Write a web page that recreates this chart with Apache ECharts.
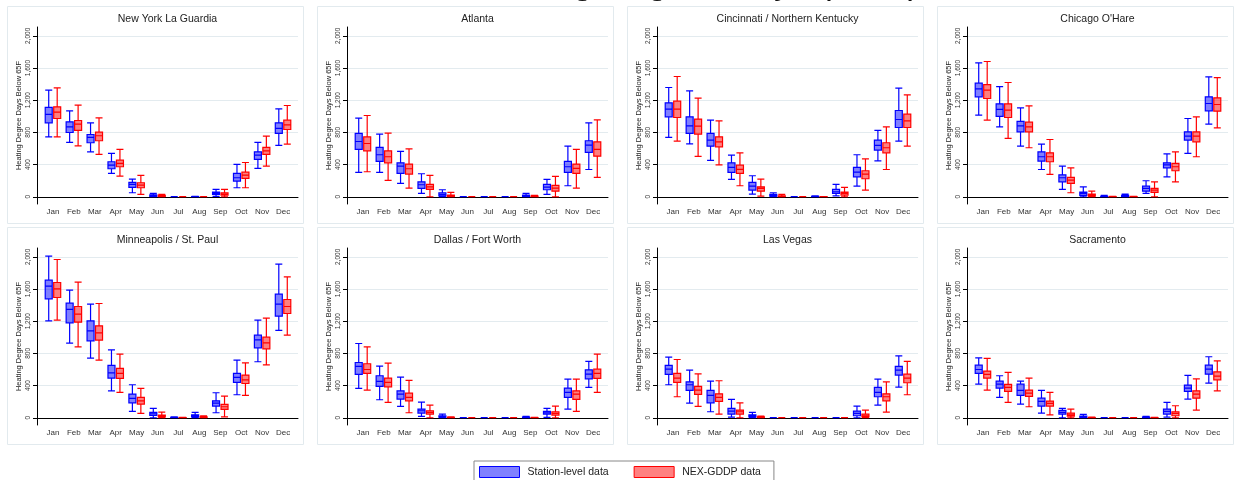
<!DOCTYPE html>
<html><head><meta charset="utf-8">
<script src="https://cdn.jsdelivr.net/npm/echarts@6/dist/echarts.min.js"></script>
<style>html,body{margin:0;padding:0;background:#fff}#c{width:1235px;height:480px}</style>
</head><body><div id="c"></div>
<script>
// ---------- data: [min, Q1, median, Q3, max] per month ----------
const months = ['Jan','Feb','Mar','Apr','May','Jun','Jul','Aug','Sep','Oct','Nov','Dec'];
const yTicks = [0, 400, 800, 1200, 1600, 2000];
const seriesNames = ['Station-level data', 'NEX-GDDP data'];
const yAxisName = 'Heating Degree Days Below 65F';
const figureTitle = 'Historical Heating Degree Days (HDD)';

const nyStation = [[745,919,1023,1110,1325],[675,799,869,932,1068],[559,671,737,774,919],[290,348,393,435,538],[50,116,153,178,219],[0,4,12,25,41],[0,0,0,0,2],[0,0,0,1,5],[4,29,46,58,91],[112,195,236,290,402],[352,464,518,559,675],[638,787,849,919,1093]];
const nyNex = [[745,973,1052,1118,1354],[633,824,903,948,1139],[526,696,758,803,981],[257,373,414,455,588],[29,112,145,174,265],[0,4,8,17,29],[0,0,0,0,2],[0,0,0,0,3],[0,21,33,50,91],[112,228,269,306,426],[381,526,571,613,753],[654,836,894,952,1134]];

const atlStation = [[302,588,687,787,977],[302,439,522,613,778],[166,290,381,422,563],[41,104,149,186,286],[0,12,29,50,87],[0,0,0,0,2],[0,0,0,0,1],[0,0,0,0,1],[0,4,8,21,41],[29,87,120,153,215],[137,302,373,439,629],[339,551,642,696,919]];
const atlNex = [[311,571,662,745,1010],[203,422,497,571,791],[108,282,348,406,596],[0,91,124,153,265],[0,4,12,21,54],[0,0,0,0,1],[0,0,0,0,1],[0,0,0,0,1],[0,0,4,8,17],[0,70,108,141,253],[108,290,352,406,588],[240,505,588,683,956]];

const cinStation = [[737,994,1089,1167,1358],[658,787,882,994,1317],[451,629,704,787,952],[215,302,364,422,518],[33,83,132,178,261],[0,8,17,29,50],[0,0,0,0,3],[0,1,2,4,12],[12,41,62,91,153],[132,248,306,364,522],[447,580,638,704,824],[691,861,960,1072,1350]];
const cinNex = [[691,985,1089,1188,1495],[501,778,878,965,1225],[397,621,683,745,944],[137,290,340,393,546],[8,70,104,124,219],[0,4,8,12,29],[0,0,0,0,1],[0,0,0,1,3],[0,21,41,58,116],[83,224,282,323,472],[339,546,609,671,869],[629,861,944,1027,1267]];

const chiStation = [[1014,1242,1341,1412,1664],[869,998,1085,1155,1370],[629,807,882,936,1105],[339,443,497,559,654],[91,186,236,273,381],[0,17,41,58,124],[0,0,2,4,17],[0,4,8,16,33],[41,70,104,132,199],[248,360,397,422,534],[538,704,753,807,973],[903,1068,1159,1242,1490]];
const chiNex = [[952,1221,1325,1395,1681],[725,985,1076,1155,1420],[609,807,869,927,1130],[277,435,497,546,712],[50,166,207,240,360],[0,8,21,33,70],[0,0,0,1,4],[0,0,1,2,6],[0,54,83,104,186],[186,323,373,414,559],[497,683,753,807,994],[857,1064,1147,1230,1482]];

const minStation = [[1205,1478,1635,1710,2008],[927,1180,1346,1424,1586],[741,956,1081,1205,1412],[335,493,559,650,845],[79,186,240,294,410],[0,29,50,66,116],[0,0,2,4,12],[0,12,21,37,66],[62,145,182,211,311],[286,439,501,551,716],[696,869,969,1027,1213],[1085,1263,1412,1536,1909]];
const minNex = [[1213,1495,1602,1681,1967],[882,1188,1288,1383,1685],[716,965,1056,1143,1420],[315,489,551,613,791],[54,170,211,253,364],[0,12,25,33,70],[0,0,0,1,4],[0,4,8,12,25],[12,104,137,166,269],[277,426,472,530,683],[658,857,931,1002,1238],[1027,1296,1383,1470,1751]];

const dalStation = [[364,538,638,687,923],[224,389,451,522,642],[141,232,294,335,505],[17,58,87,108,195],[0,8,12,25,46],[0,0,0,0,1],[0,0,0,0,1],[0,0,0,0,1],[0,2,4,8,17],[4,46,62,79,116],[108,253,315,369,480],[377,484,542,596,700]];
const dalNex = [[344,551,600,671,882],[190,385,439,493,679],[62,211,253,306,464],[0,46,66,87,157],[0,0,2,4,12],[0,0,0,0,1],[0,0,0,0,1],[0,0,0,0,1],[0,0,1,2,6],[0,33,54,75,145],[79,228,294,335,480],[315,489,551,604,791]];

const lvStation = [[410,538,604,650,753],[182,340,410,447,592],[75,186,277,340,455],[8,46,83,116,228],[0,12,21,37,66],[0,0,0,0,1],[0,0,0,0,1],[0,0,0,0,1],[0,0,0,0,2],[0,25,54,83,145],[157,261,315,377,480],[381,530,592,638,770]];
const lvNex = [[261,439,493,551,724],[141,290,344,389,546],[46,203,253,298,460],[0,46,75,95,186],[0,4,8,12,21],[0,0,0,0,1],[0,0,0,0,1],[0,0,0,0,1],[0,0,0,0,1],[0,12,25,46,95],[70,211,261,298,447],[286,435,493,542,700]];

const sacStation = [[418,551,600,654,745],[253,369,418,455,522],[170,277,340,418,455],[58,145,203,244,340],[0,46,66,91,116],[0,4,12,21,41],[0,0,0,0,1],[0,0,0,0,2],[0,2,4,8,17],[8,46,79,108,190],[232,327,369,406,526],[431,542,604,654,758]];
const sacNex = [[344,493,538,580,737],[190,327,377,414,563],[137,265,306,344,493],[37,145,178,207,315],[0,21,37,58,108],[0,0,1,3,8],[0,0,0,0,1],[0,0,0,0,1],[0,0,1,2,4],[0,25,54,75,149],[95,244,294,335,484],[335,472,518,571,708]];

const panels = [
  { title: 'New York La Guardia', station: nyStation, nex: nyNex },
  { title: 'Atlanta', station: atlStation, nex: atlNex },
  { title: 'Cincinnati / Northern Kentucky', station: cinStation, nex: cinNex },
  { title: "Chicago O'Hare", station: chiStation, nex: chiNex },
  { title: 'Minneapolis / St. Paul', station: minStation, nex: minNex },
  { title: 'Dallas / Fort Worth', station: dalStation, nex: dalNex },
  { title: 'Las Vegas', station: lvStation, nex: lvNex },
  { title: 'Sacramento', station: sacStation, nex: sacNex }
];

// ---------- chart ----------
const FONT = '"Liberation Sans", Arial, sans-serif';
const blue = { color: 'rgba(0,0,255,0.5)', borderColor: '#0000ff', borderWidth: 1.2 };
const red = { color: 'rgba(255,0,0,0.5)', borderColor: '#ff0000', borderWidth: 1.2 };
const chart = echarts.init(document.getElementById('c'), null, { renderer: 'canvas' });
const grid = [], xAxis = [], yAxis = [], series = [], graphic = [];

// figure title: only its lowest part falls inside the picture, as in the reference
graphic.push({ type: 'text', x: 617, y: -16, silent: true,
  style: { text: figureTitle, fontSize: 35.5, fontFamily: FONT, fill: '#111', align: 'center', verticalAlign: 'middle',
    padding: [0, 0, 20, 0] } });

panels.forEach((p, i) => {
  const col = i % 4, row = Math.floor(i / 4);
  const x0 = 7 + col * 310, y0 = 6 + row * 221;
  const gA = 2 * i, gB = 2 * i + 1;
  grid.push({ left: x0 + 30, top: y0 + 21, width: 261, height: 177 });
  grid.push({ left: x0 + 35.5, top: y0 + 21, width: 251, height: 177 });
  xAxis.push({ gridIndex: gA, type: 'value', min: 0, max: 1, silent: true,
    axisLine: { show: true, lineStyle: { color: '#000', width: 1 } },
    axisTick: { show: false }, axisLabel: { show: false }, splitLine: { show: false } });
  yAxis.push({ gridIndex: gA, type: 'value', min: -90, max: 2110, silent: true,
    name: yAxisName, nameLocation: 'middle', nameGap: 14,
    nameTextStyle: { fontSize: 7.5, color: '#222', fontFamily: FONT },
    axisLine: { show: true, lineStyle: { color: '#000', width: 1 } },
    axisTick: { show: true, length: 4, customValues: yTicks, lineStyle: { color: '#000' } },
    axisLabel: { show: true, customValues: yTicks, rotate: 90, fontSize: 6.5, color: '#333', margin: 5, fontFamily: FONT,
      formatter: v => Number(v).toLocaleString('en-US') },
    splitLine: { show: true, lineStyle: { color: '#e3ebef', width: 1 } } });
  xAxis.push({ gridIndex: gB, type: 'category', data: months, silent: true,
    axisLine: { show: false }, axisTick: { show: false },
    axisLabel: { interval: 0, fontSize: 8, color: '#333', margin: 4, fontFamily: FONT },
    splitLine: { show: false } });
  yAxis.push({ gridIndex: gB, type: 'value', min: -90, max: 2110, show: false, splitLine: { show: false } });
  series.push({ type: 'boxplot', name: seriesNames[0], xAxisIndex: gB, yAxisIndex: gB, data: p.station,
    boxWidth: [7, 7], itemStyle: blue, emphasis: { disabled: true } });
  series.push({ type: 'boxplot', name: seriesNames[1], xAxisIndex: gB, yAxisIndex: gB, data: p.nex,
    boxWidth: [7, 7], itemStyle: red, emphasis: { disabled: true } });
  graphic.push({ type: 'rect', silent: true, z: -1,
    shape: { x: x0 + 0.5, y: y0 + 0.5, width: 296, height: 217 },
    style: { fill: null, stroke: '#e2eaee', lineWidth: 1 } });
  graphic.push({ type: 'text', silent: true, x: x0 + 30 + 130.5, y: y0 + 13.5,
    style: { text: p.title, fontSize: 10.5, fontFamily: FONT, fill: '#222', align: 'center', verticalAlign: 'middle' } });
});

chart.setOption({
  animation: false,
  backgroundColor: '#fff',
  grid, xAxis, yAxis, series, graphic,
  tooltip: { show: false },
  legend: {
    left: 474, top: 461, orient: 'horizontal',
    itemWidth: 40, itemHeight: 11, itemGap: 25,
    padding: [5, 13, 5, 5],
    borderColor: '#888', borderWidth: 1, selectedMode: false,
    textStyle: { fontSize: 10.5, color: '#222', fontFamily: FONT, padding: [0, 0, 0, 3] },
    data: [
      { name: seriesNames[0], icon: 'rect', itemStyle: { color: '#8080ff', borderColor: '#0000ff', borderWidth: 1 } },
      { name: seriesNames[1], icon: 'rect', itemStyle: { color: '#ff8080', borderColor: '#ff0000', borderWidth: 1 } }
    ]
  }
});
</script></body></html>
